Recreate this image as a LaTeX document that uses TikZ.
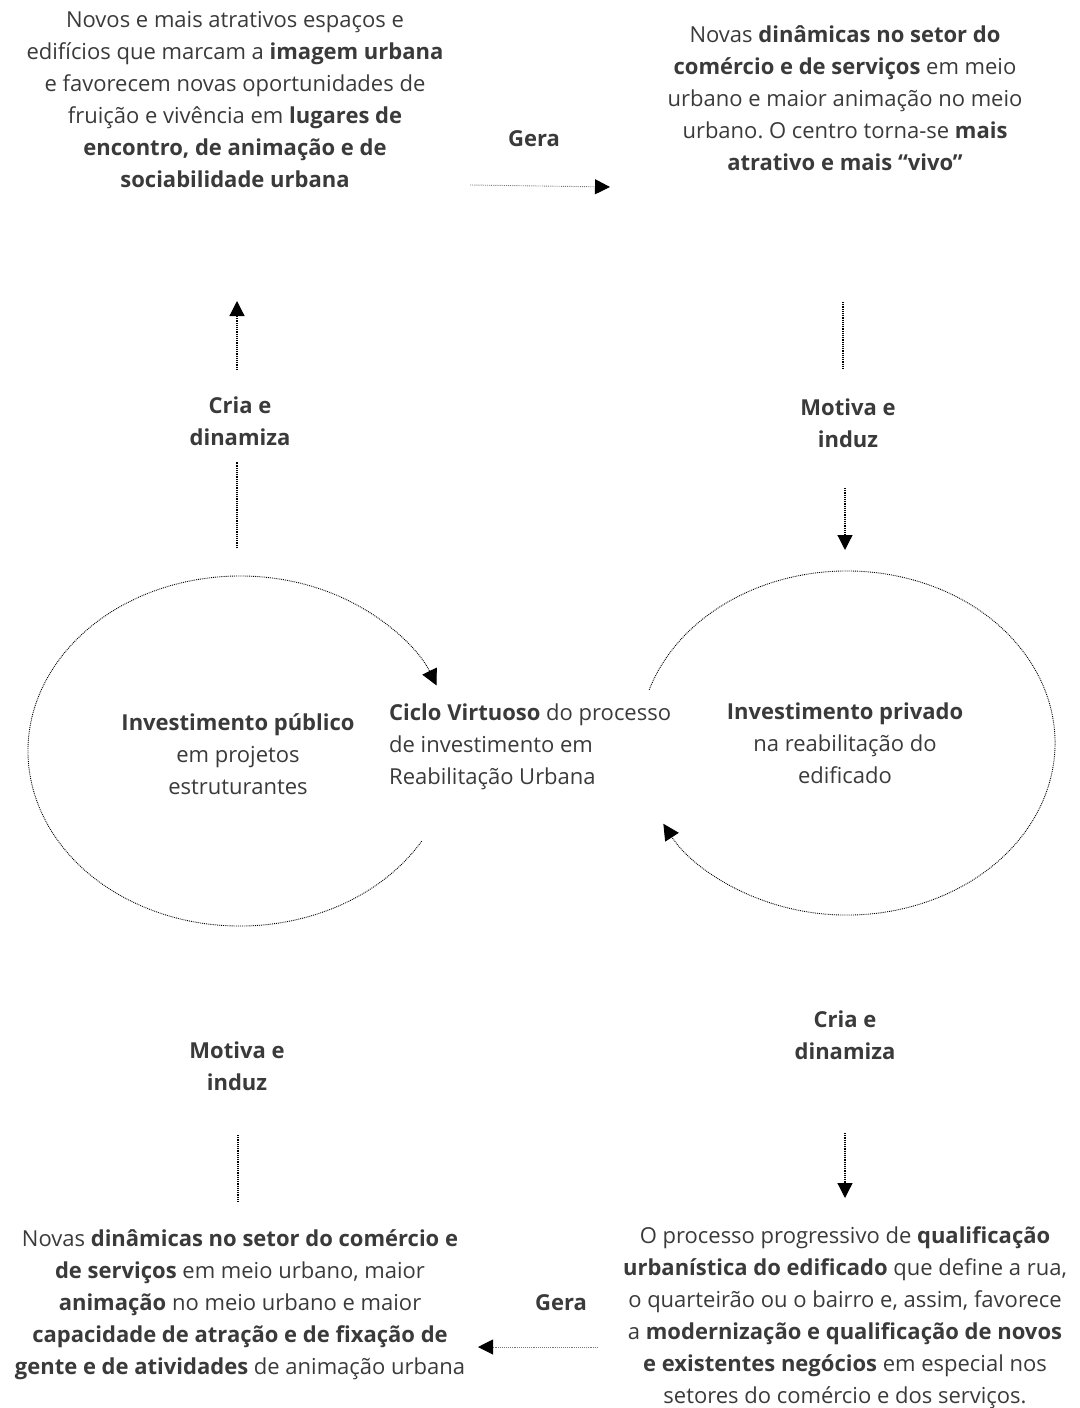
\documentclass[tikz,border=0pt]{standalone}
\usepackage{fontspec}
\setmainfont{Open Sans}
\usepackage{tikz}
\usetikzlibrary{positioning,arrows.meta}
\definecolor{txtgray}{RGB}{58,58,58}
\definecolor{flowgray}{RGB}{120,120,120}
\frenchspacing

\begin{document}
\begin{tikzpicture}[x=1pt,y=1pt,
		txt/.style={text=txtgray, align=center, inner sep=0pt,
					font=\fontsize{22}{32}\selectfont},
		lbl/.style={txt, font=\fontsize{22}{32}\selectfont\bfseries},
		dotline/.style={densely dotted, line width=1.2pt},
		dotarrow/.style={dotline, -{Triangle[length=15pt,width=15pt]}},
		flowarrow/.style={densely dotted, line width=0.9pt, flowgray,
					-{Triangle[length=15pt,width=15pt,color=black]}},
		cyclearc/.style={densely dotted, line width=0.9pt,
					-{Triangle[length=16pt,width=16pt]}}
	]
		\useasboundingbox (0,0) rectangle (1079,-1408);

		\node[txt] (imagem) at (235,-100) {Novos e mais atrativos espaços e\\
			edifícios que marcam a \textbf{imagem urbana}\\
			e favorecem novas oportunidades de\\
			fruição e vivência em \textbf{lugares de}\\
			\textbf{encontro, de animação e de}\\
			\textbf{sociabilidade urbana}};
		\node[txt] (comercio) at (845,-98) {Novas \textbf{dinâmicas no setor do}\\
			\textbf{comércio e de serviços} em meio\\
			urbano e maior animação no meio\\
			urbano. O centro torna-se \textbf{mais}\\
			\textbf{atrativo e mais “vivo”}};
		\node[lbl] (gera1) at (534,-139) {Gera};

		\node[lbl] (cria1) at (240,-421) {Cria e\\dinamiza};
		\node[lbl] (motiva1) at (848,-423) {Motiva e\\induz};

		\node[txt] (publico) at (238,-754) {\textbf{Investimento público}\\em projetos\\estruturantes};
		\node[txt, anchor=west, align=left] (ciclo) at (389,-747) {\textbf{Ciclo Virtuoso} do processo\\
			de investimento em\\Reabilitação Urbana};
		\node[txt] (privado) at (845,-743) {\textbf{Investimento privado}\\na reabilitação do\\edificado};

		\node[lbl] (motiva2) at (237,-1066) {Motiva e\\induz};
		\node[lbl] (cria2) at (845,-1035) {Cria e\\dinamiza};

		\node[txt] (atracao) at (240,-1305) {Novas \textbf{dinâmicas no setor do comércio e}\\
			\textbf{de serviços} em meio urbano, maior\\
			\textbf{animação} no meio urbano e maior\\
			\textbf{capacidade de atração e de fixação de}\\
			\textbf{gente e de atividades} de animação urbana};
		\node[txt] (qualif) at (845,-1318) {O processo progressivo de \textbf{qualificação}\\
			\textbf{urbanística do edificado} que define a rua,\\
			o quarteirão ou o bairro e, assim, favorece\\
			a \textbf{modernização e qualificação de novos}\\
			\textbf{e existentes negócios} em especial nos\\
			setores do comércio e dos serviços.};
		\node[lbl] (gera2) at (561,-1303) {Gera};

		\coordinate (g1a) at (470,-185);
		\coordinate (g1b) at (610,-187);
		\coordinate (c1a) at (237,-548);
		\coordinate (c1b) at (237,-462);
		\coordinate (c1c) at (237,-370);
		\coordinate (c1d) at (237,-301);
		\coordinate (m1a) at (843,-302);
		\coordinate (m1b) at (843,-370);
		\coordinate (m1c) at (845,-488);
		\coordinate (m1d) at (845,-550);
		\coordinate (m2a) at (238,-1135);
		\coordinate (m2b) at (238,-1203);
		\coordinate (c2a) at (845,-1133);
		\coordinate (c2b) at (845,-1198);
		\coordinate (g2a) at (598,-1347);
		\coordinate (g2b) at (478,-1347);
		\coordinate (eleft) at (240,-751);
		\coordinate (eright) at (847,-743);

		\draw[flowarrow] (g1a) -- (g1b);
		\draw[dotline] (c1a) -- (c1b);
		\draw[dotarrow] (c1c) -- (c1d);
		\draw[dotline] (m1a) -- (m1b);
		\draw[dotarrow] (m1c) -- (m1d);
		\draw[dotline] (m2a) -- (m2b);
		\draw[dotarrow] (c2a) -- (c2b);
		\draw[flowarrow] (g2a) -- (g2b);

		\draw[cyclearc] (eleft) ++(-31:212 and 175)
			arc[start angle=-31, end angle=-338, x radius=212, y radius=175];
		\draw[cyclearc] (eright) ++(162:208 and 172)
			arc[start angle=162, end angle=-152, x radius=208, y radius=172];
	\end{tikzpicture}
\end{document}
